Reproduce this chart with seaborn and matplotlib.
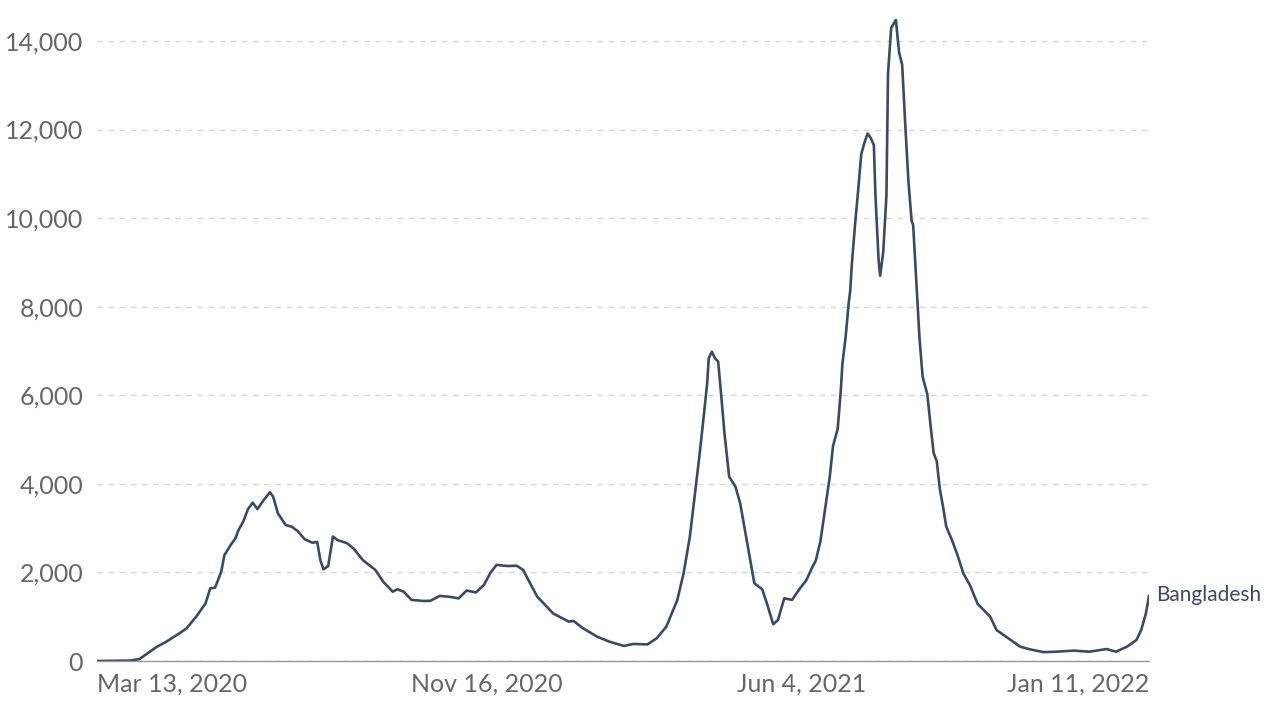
import pandas as pd
import numpy as np
import seaborn as sns
import matplotlib.pyplot as plt

# daily new cases, Bangladesh
# day offsets counted from Mar 13, 2020
start = pd.Timestamp('2020-03-13')
days = [0, 21, 27, 38, 44, 53, 57, 63, 69, 72, 75, 77, 79, 81, 85, 88, 90, 93, 96, 99,
        102, 106, 110, 112, 115, 120, 124, 128, 132, 137, 140, 142, 144, 147, 150, 153,
        159, 163, 169, 177, 182, 188, 191, 195, 200, 208, 212, 218, 224, 230, 235, 241,
        246, 250, 254, 261, 267, 271, 276, 280, 285, 290, 300, 303, 309, 318, 326, 335,
        341, 350, 356, 362, 369, 373, 377, 380, 383, 386, 388, 389, 391, 393, 395, 397,
        399, 402, 406, 409, 412, 415, 418, 423, 426, 430, 433, 437, 442, 447, 451, 455,
        457, 460, 463, 466, 468, 471, 473, 474, 476, 478, 479, 480, 482, 484, 486, 488,
        490, 492, 494, 495, 497, 498, 500, 502, 503, 505, 508, 510, 512, 514, 516, 518,
        519, 521, 523, 525, 528, 530, 532, 534, 536, 538, 540, 544, 547, 551, 555, 560,
        568, 572, 578, 587, 593, 602, 610, 621, 631, 642, 648, 655, 661, 664, 667, 669]
cases = [0, 10, 45, 320, 435, 640, 740, 1000, 1300, 1640, 1655, 1830, 2020, 2390, 2620,
         2770, 2960, 3150, 3430, 3575, 3430, 3635, 3810, 3710, 3335, 3070, 3030, 2920, 2750,
         2670, 2690, 2280, 2070, 2145, 2810, 2730, 2660, 2545, 2280, 2055, 1790, 1565, 1620,
         1565, 1380, 1355, 1360, 1470, 1450, 1415, 1590, 1550, 1715, 1980, 2170, 2145, 2150,
         2055, 1715, 1450, 1265, 1075, 890, 905, 740, 550, 435, 340, 385, 375, 515, 775,
         1375, 1980, 2810, 3710, 4610, 5590, 6270, 6835, 6985, 6835, 6760, 5970, 5140, 4160,
         3935, 3560, 2960, 2355, 1755, 1620, 1300, 830, 925, 1415, 1380, 1640, 1820, 2130,
         2260, 2700, 3430, 4170, 4850, 5240, 6120, 6710, 7300, 8080, 8370, 8960, 9840, 10620,
         11450, 11700, 11910, 11810, 11650, 10520, 9060, 8700, 9250, 10520, 13260, 14290,
         14480, 13750, 13460, 12090, 10820, 9940, 9840, 8570, 7300, 6420, 6020, 5340, 4700,
         4510, 3870, 3485, 3040, 2700, 2410, 1970, 1720, 1290, 1000, 700, 550, 325, 265, 200,
         210, 235, 210, 270, 210, 325, 475, 700, 1075, 1480]
country = 'Bangladesh'
xtick_dates = ['2020-03-13', '2020-11-16', '2021-06-04', '2022-01-11']
xtick_labels = ['Mar 13, 2020', 'Nov 16, 2020', 'Jun 4, 2021', 'Jan 11, 2022']
yticks = [0, 2000, 4000, 6000, 8000, 10000, 12000, 14000]

df = pd.DataFrame({'date': start + pd.to_timedelta(days, unit='D'), 'cases': cases})

sns.set_style('white')
plt.rcParams['font.family'] = ['Lato', 'DejaVu Sans']

line_color = '#3A4A63'
fig = plt.figure(figsize=(12.8, 7.1), dpi=100)
ax = fig.add_axes([0.0758, 0.069, 0.8219, 0.9045])

sns.lineplot(data=df, x='date', y='cases', ax=ax, color=line_color, linewidth=1.9)

ax.set_xlim(pd.Timestamp(xtick_dates[0]), pd.Timestamp(xtick_dates[-1]))
ax.set_ylim(0, 14500)
ax.set_yticks(yticks)
ax.set_yticklabels([f'{v:,}' for v in yticks], fontsize=18, color='#666666')
ax.yaxis.grid(True, linestyle=(0, (4, 4)), color='#d6d6d6', linewidth=1)
ax.xaxis.grid(False)
ax.tick_params(axis='y', length=0, pad=10)

xt = [pd.Timestamp(d) for d in xtick_dates]
ax.set_xticks(xt)
ax.set_xticklabels(xtick_labels, fontsize=18, color='#666666')
labels = ax.get_xticklabels()
labels[0].set_ha('left')
labels[-1].set_ha('right')
ax.tick_params(axis='x', length=6, width=1, color='#999999', pad=2)

for side in ['top', 'right', 'left']:
    ax.spines[side].set_visible(False)
ax.spines['bottom'].set_color('#999999')
ax.spines['bottom'].set_linewidth(1)
ax.set_xlabel('')
ax.set_ylabel('')

ax.text(1.007, cases[-1], country, transform=ax.get_yaxis_transform(),
        fontsize=15, color=line_color, va='center', ha='left')

fig.savefig('out.png', dpi=100)
